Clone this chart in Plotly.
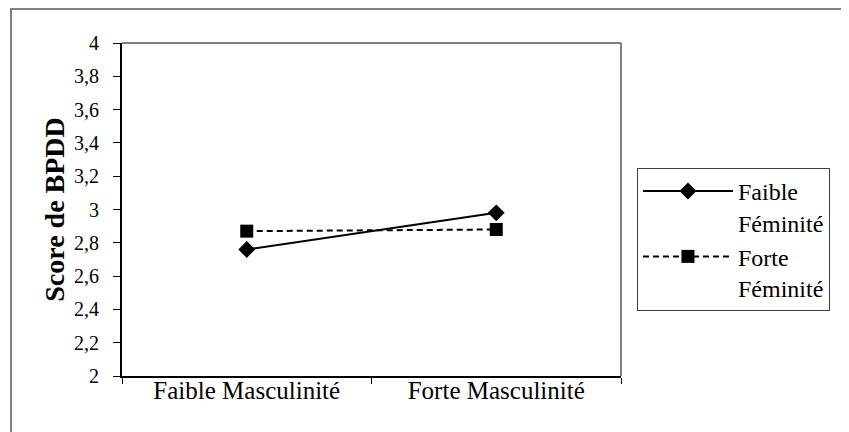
import plotly.graph_objects as go

categories = ["Faible Masculinité", "Forte Masculinité"]
faible_feminite = [2.76, 2.98]
forte_feminite = [2.87, 2.88]
series_names = ["Faible<br>Féminité", "Forte<br>Féminité"]
y_tick_vals = [2.0, 2.2, 2.4, 2.6, 2.8, 3.0, 3.2, 3.4, 3.6, 3.8, 4.0]
y_tick_labels = ["2", "2,2", "2,4", "2,6", "2,8", "3", "3,2", "3,4", "3,6", "3,8", "4"]
y_title = "Score de BPDD"

FONT = "Liberation Serif, Times New Roman, serif"

fig = go.Figure()
fig.add_trace(go.Scatter(
    x=categories, y=faible_feminite, name=series_names[0], mode="lines+markers",
    line=dict(color="black", width=2),
    marker=dict(symbol="diamond", size=13, color="black"),
    legendgroup="a",
))
fig.add_trace(go.Scatter(
    x=categories, y=forte_feminite, name=series_names[1], mode="lines+markers",
    line=dict(color="black", width=2, dash="6px,4px"),
    marker=dict(symbol="square", size=13, color="black"),
    legendgroup="b",
))

fig.update_layout(
    width=849, height=432,
    margin=dict(l=114, r=236, t=35, b=64, autoexpand=False),
    paper_bgcolor="white", plot_bgcolor="white",
    font=dict(family=FONT, color="black", size=19),
    showlegend=True,
    legend=dict(
        x=1.032, y=0.625, xanchor="left", yanchor="top",
        bordercolor="#404040", borderwidth=1, bgcolor="white",
        font=dict(family=FONT, size=24, color="black"),
        valign="top", tracegroupgap=0, itemwidth=90,
    ),
    xaxis=dict(
        type="category", categoryorder="array", categoryarray=categories,
        range=[-0.5, 1.5], tickson="boundaries", ticks="outside", ticklen=6,
        tickcolor="black", tickwidth=1,
        showline=True, linecolor="black", linewidth=2,
        showgrid=False, zeroline=False,
        tickfont=dict(family=FONT, size=25, color="black"),
        ticklabelstandoff=-9,
    ),
    yaxis=dict(
        range=[2, 4], tickvals=y_tick_vals, ticktext=y_tick_labels,
        ticks="outside", ticklen=7, tickcolor="black", tickwidth=1,
        showline=True, linecolor="black", linewidth=2,
        showgrid=False, zeroline=False,
        tickfont=dict(family=FONT, size=20, color="black"),
        ticklabelstandoff=10,
        title=dict(text="<b>" + y_title + "</b>", standoff=1,
                   font=dict(family=FONT, size=28, color="black")),
    ),
    shapes=[
        dict(type="line", xref="paper", yref="paper", x0=0, x1=1, y0=1, y1=1,
             line=dict(color="#808080", width=2)),
        dict(type="line", xref="paper", yref="paper", x0=1, x1=1, y0=0, y1=1,
             line=dict(color="#808080", width=2)),
        dict(type="rect", xref="paper", yref="paper", x0=-0.2224, x1=1.48,
             y0=-0.25, y1=1.102, line=dict(color="#808080", width=2)),
    ],
)

fig.write_html("out.html")
